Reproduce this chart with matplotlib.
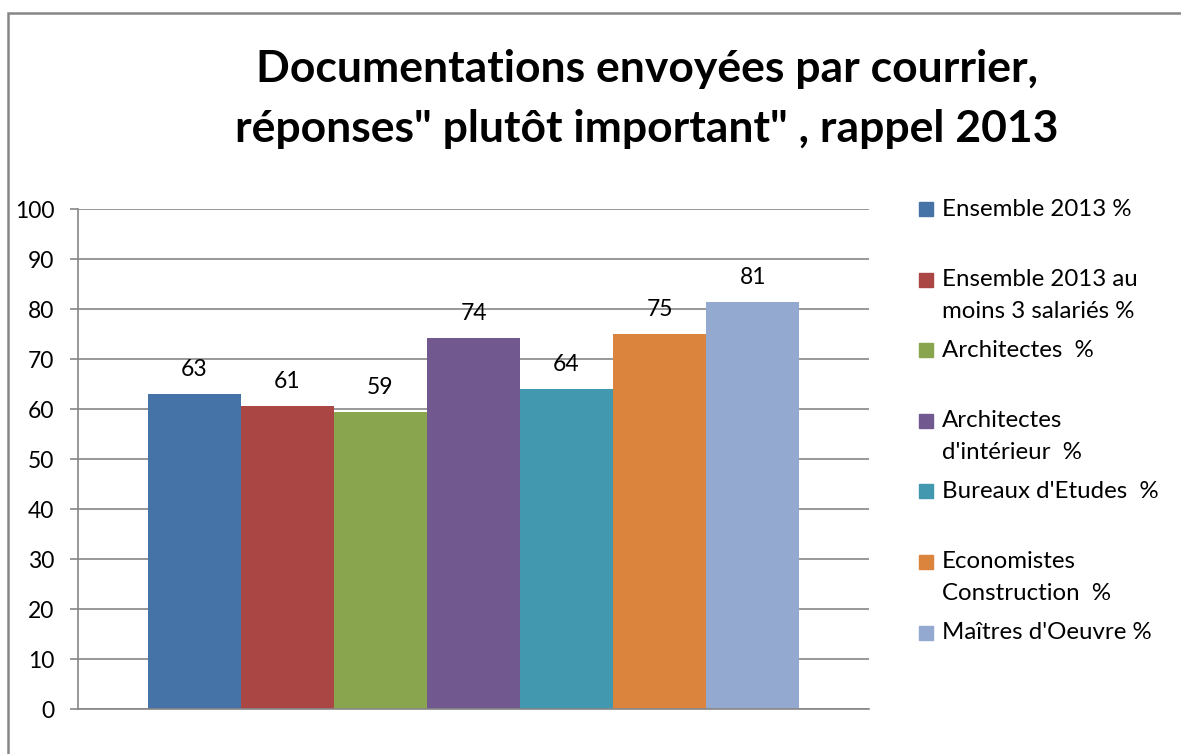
import matplotlib
matplotlib.use("Agg")
import matplotlib.pyplot as plt
from matplotlib.patches import Rectangle

# data
series = [
    "Ensemble 2013 %",
    "Ensemble 2013 au\nmoins 3 salariés %",
    "Architectes  %",
    "Architectes\nd'intérieur  %",
    "Bureaux d'Etudes  %",
    "Economistes\nConstruction  %",
    "Maîtres d'Oeuvre %",
]
values = [63.0, 60.6, 59.4, 74.2, 64.0, 75.0, 81.4]
colors = ["#4572A7", "#AA4643", "#89A54E", "#71588F", "#4198AF", "#DB843D", "#93A9CF"]
yticks = list(range(0, 101, 10))
title = "Documentations envoyées par courrier,\nréponses\" plutôt important\" , rappel 2013"

W, H = 1181, 754
GRID = "#868686"

plt.rcParams["font.family"] = ["Lato", "DejaVu Sans"]

fig = plt.figure(figsize=(W / 100, H / 100), dpi=100)
ax = fig.add_axes([78 / W, 1 - 709 / H, (869 - 78) / W, 500 / H])

x = list(range(len(values)))
ax.bar(x, values, width=1.0, color=colors, zorder=2)
for xi, v in zip(x, values):
    ax.annotate(f"{v:.0f}", (xi, v), xytext=(0, 13), textcoords="offset points",
                ha="center", va="baseline", fontsize=16.5)

ax.set_xlim(-1.25, 7.25)
ax.set_ylim(0, 100)
ax.set_yticks(yticks)
ax.set_xticks([])
ax.yaxis.grid(True, color=GRID, linewidth=1.2)
ax.set_axisbelow(True)
ax.tick_params(axis="y", length=6, width=1.2, color=GRID, pad=11, labelsize=16.5)
for side in ["top", "right"]:
    ax.spines[side].set_visible(False)
for side in ["left", "bottom"]:
    ax.spines[side].set_color(GRID)
    ax.spines[side].set_linewidth(1.2)

fig.text(647 / W, 1 - 99 / H, title, ha="center", va="center",
         multialignment="center", fontsize=32, fontweight="bold", linespacing=1.62)

# legend, drawn by hand so the swatch sits on the first text line
for i, (name, c) in enumerate(zip(series, colors)):
    yc = 209 + i * 70.6
    fig.add_artist(Rectangle((919 / W, 1 - (yc + 7) / H), 14 / W, 14 / H,
                             transform=fig.transFigure, color=c))
    for k, line in enumerate(name.split("\n")):
        fig.text(942 / W, 1 - (yc + k * 32) / H, line, ha="left", va="center",
                 fontsize=17.3)

# chart border
fig.add_artist(Rectangle((8 / W, -0.1), 1.2, 1.1 - 13 / H, transform=fig.transFigure,
                         fill=False, edgecolor=GRID, linewidth=1.8))

fig.savefig("out.png", dpi=100)
